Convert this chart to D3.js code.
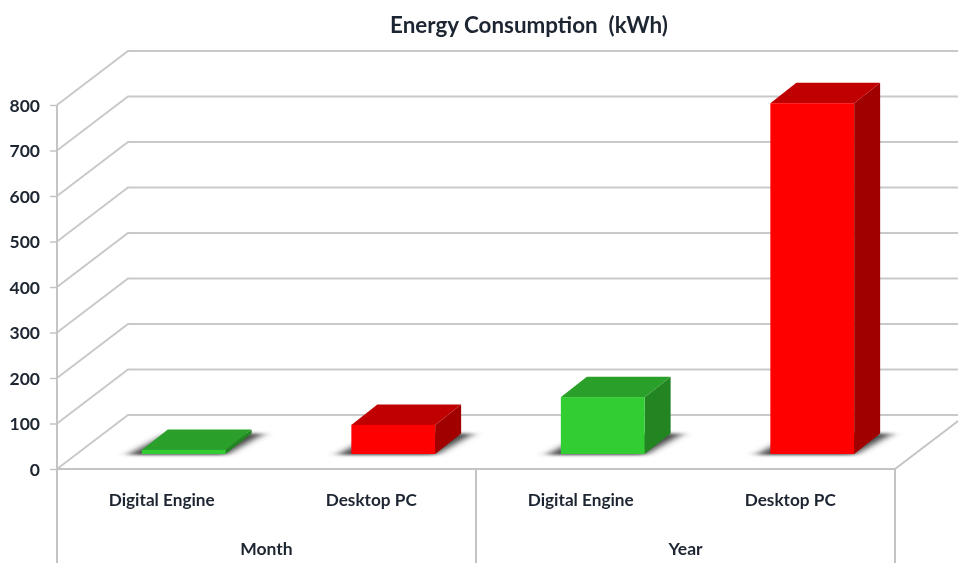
<!DOCTYPE html>
<html>
<head>
<meta charset="utf-8">
<script src="https://cdnjs.cloudflare.com/ajax/libs/d3/7.8.5/d3.min.js"></script>
<style>
  html, body { margin: 0; padding: 0; background: #fff; }
  svg { display: block; }
  text { font-family: Lato, "Open Sans", sans-serif; font-weight: 700; fill: #1f2530; white-space: pre; }
</style>
</head>
<body>
<div id="chart"></div>
<script>
// Chart data
const title = "Energy Consumption  (kWh)";
const groups = ["Month", "Year"];
const categories = ["Digital Engine", "Desktop PC", "Digital Engine", "Desktop PC"];
const values = [9, 64, 125, 771];
const yTicks = [0, 100, 200, 300, 400, 500, 600, 700, 800];

const width = 958, height = 563;
const left = 57, right = 895, floorY = 469, topY = 105;

// Depth of the plot box and of the bars, in pixels
const wallDx = 71, wallDy = -54;
const barDx = 26, barDy = -20.5;
const insetDx = 22, insetDy = -15;

const colors = {
  red: { front: "#ff0000", top: "#c00000", side: "#a00000" },
  green: { front: "#32cd32", top: "#299f29", side: "#228522" }
};
const seriesColor = ["green", "red", "green", "red"];

const keys = categories.map((c, i) => i);

const y = d3.scaleLinear().domain([0, 800]).range([floorY, topY]);
const x = d3.scaleBand().domain(keys).range([left, right])
  .paddingInner(0.6).paddingOuter(0.3);
const xLabel = d3.scaleBand().domain(keys).range([left, right]);
const xGroup = d3.scaleBand().domain(groups).range([left, right]);

const svg = d3.select("#chart").append("svg")
  .attr("width", width).attr("height", height);

const defs = svg.append("defs");
defs.append("filter").attr("id", "soft")
  .attr("x", "-5%").attr("y", "-5%").attr("width", "110%").attr("height", "110%")
  .append("feGaussianBlur").attr("stdDeviation", 0.6);
defs.append("filter").attr("id", "shadow")
  .attr("x", "-40%").attr("y", "-40%").attr("width", "180%").attr("height", "180%")
  .append("feGaussianBlur").attr("stdDeviation", "6 1.5");

const root = svg.append("g").attr("filter", "url(#soft)");

// Gridlines: side wall + back wall
root.append("g").selectAll("path")
  .data(yTicks)
  .join("path")
  .attr("fill", "none")
  .attr("stroke", "#c9c9c9")
  .attr("stroke-width", 2)
  .attr("d", d => d3.line()([
    [left, y(d)],
    [left + wallDx, y(d) + wallDy],
    [width + 10, y(d) + wallDy]
  ]));

// Floor front edge, right edge, and the axis lines
const boxLines = [
  [[left, y(800)], [left, height]],
  [[left, floorY], [right, floorY]],
  [[right, floorY], [right + wallDx, floorY + wallDy]],
  [[right, floorY], [right, height]],
  [[xGroup("Year"), floorY], [xGroup("Year"), height]]
];
root.append("g").selectAll("path")
  .data(boxLines)
  .join("path")
  .attr("fill", "none")
  .attr("stroke", "#c4c4c4")
  .attr("stroke-width", 2)
  .attr("d", d => d3.line()(d));

// Y axis
const yAxis = root.append("g")
  .attr("transform", "translate(" + left + ",0)")
  .call(d3.axisLeft(y).tickValues(yTicks).tickSize(7).tickPadding(10));
yAxis.select(".domain").remove();
yAxis.selectAll("line").attr("stroke", "#c4c4c4").attr("stroke-width", 1.5);
yAxis.selectAll("text").attr("dy", "0.36em").style("font-size", "17.5px");

// Category labels
const xAxis = root.append("g")
  .attr("transform", "translate(0,494)")
  .call(d3.axisBottom(xLabel).tickFormat(i => categories[i]).tickSize(0).tickPadding(0));
xAxis.select(".domain").remove();
xAxis.selectAll("text").style("font-size", "17.2px");

// Group labels
root.append("g").selectAll("text")
  .data(groups)
  .join("text")
  .attr("x", d => xGroup(d) + xGroup.bandwidth() / 2)
  .attr("y", 555)
  .attr("text-anchor", "middle")
  .style("font-size", "17.5px")
  .text(d => d);

// Title
root.append("text")
  .attr("x", 529)
  .attr("y", 33)
  .attr("text-anchor", "middle")
  .style("font-size", "22.4px")
  .text(title);

// Bars
const bars = root.append("g").selectAll("g")
  .data(values)
  .join("g")
  .attr("transform", "translate(" + insetDx + "," + insetDy + ")");

const pts = a => a.map(p => p.join(",")).join(" ");

bars.append("polygon")
  .attr("fill", "#444")
  .attr("filter", "url(#shadow)")
  .attr("points", (d, i) => {
    const x0 = x(i), x1 = x0 + x.bandwidth(), b = y(0) + 1;
    return pts([[x0 - 14, b], [x1, b], [x1 + barDx + 12, b + barDy - 1], [x0 + barDx, b + barDy - 1]]);
  });

bars.append("polygon")
  .attr("fill", (d, i) => colors[seriesColor[i]].side)
  .attr("points", (d, i) => {
    const x1 = x(i) + x.bandwidth();
    return pts([[x1, y(0)], [x1, y(d)], [x1 + barDx, y(d) + barDy], [x1 + barDx, y(0) + barDy]]);
  });

bars.append("polygon")
  .attr("fill", (d, i) => colors[seriesColor[i]].top)
  .attr("points", (d, i) => {
    const x0 = x(i), x1 = x0 + x.bandwidth();
    return pts([[x0, y(d)], [x1, y(d)], [x1 + barDx, y(d) + barDy], [x0 + barDx, y(d) + barDy]]);
  });

bars.append("rect")
  .attr("fill", (d, i) => colors[seriesColor[i]].front)
  .attr("x", (d, i) => x(i))
  .attr("y", d => y(d))
  .attr("width", x.bandwidth())
  .attr("height", d => y(0) - y(d));
</script>
</body>
</html>
